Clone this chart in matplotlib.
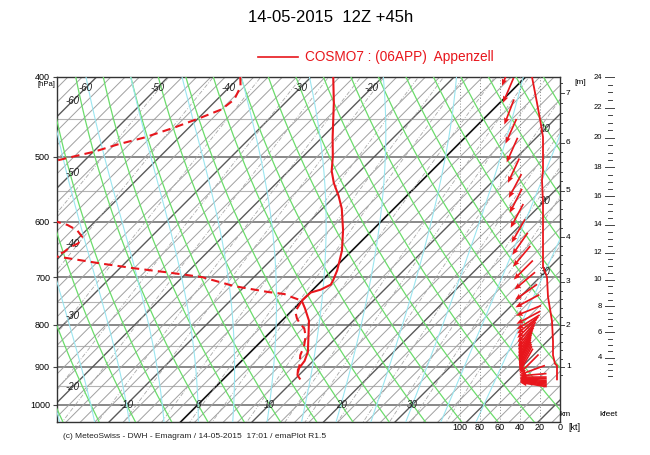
import numpy as np
import matplotlib.pyplot as plt
from matplotlib.lines import Line2D

plt.rcParams['font.family'] = ['Liberation Sans', 'DejaVu Sans']

RED = '#e8161c'
SKEW = 50.0          # degC per unit ln(p) -> 45 deg isotherms

# temperature profile (hPa, degC)
temp_p = [400, 430, 474, 500, 520, 538, 558, 578, 614, 650, 687, 706, 715, 725,
          731, 745, 748, 764, 791, 833, 863, 885, 907, 921, 930]
temp_t = [-26.9, -23.2, -18.5, -15.8, -14.0, -12.0, -9.5, -7.3, -4.1, -1.4, 0.7,
          1.5, 1.8, 1.1, 0.1, 0.0, 0.0, 1.5, 3.8, 6.3, 8.0, 8.8, 9.1, 9.8, 10.6]

# dew point profile (hPa, degC)
dew_p = [400, 411, 426, 438, 448, 461, 474, 483, 493, 500, 505, 530, 575, 600, 605,
         614, 626, 637, 644, 653, 660, 664, 674, 683, 691, 700, 718, 730, 734, 740,
         748, 771, 786, 797, 808, 826, 850, 871, 896, 921, 928]
dew_t = [-39.9, -38.5, -37.6, -38.0, -39.7, -42.1, -44.9, -47.6, -49.9, -52.2, -53.8,
         -62.0, -62.0, -45.2, -43.4, -41.3, -39.6, -39.3, -39.9, -40.1, -41.0, -38.7,
         -33.3, -28.0, -22.7, -17.3, -11.5, -5.9, -3.4, -2.0, 0.0, 0.6, 1.8, 2.9, 4.2,
         5.5, 6.7, 7.4, 8.7, 9.8, 10.2]

# wind speed profile (hPa, kt)
wspd_p = [400, 430, 450, 473, 500, 519, 534, 568, 620, 650, 680, 690, 700, 740,
          765, 792, 838, 871, 892, 897, 932]
wspd_kt = [28, 23, 20, 17, 17, 17, 18, 17, 17, 17, 17, 15, 13, 12, 10, 8, 7, 7, 5, 3, 3]

# wind direction arrows (hPa, direction from, deg)
arrow_p = [410, 430, 457, 482, 508, 538, 561, 585, 610, 636, 658, 680, 705, 725,
           746, 762, 780, 798, 810, 820, 830, 840, 850, 858, 866, 873, 880, 886,
           892, 898, 903, 908, 913, 917, 920, 923, 926, 928, 930, 932, 934, 936,
           938, 940]
arrow_dir = [22, 23, 21, 24, 24, 25, 28, 27, 28, 30, 35, 40, 45, 50, 55, 62, 68, 62,
             58, 52, 46, 42, 38, 35, 32, 30, 28, 27, 26, 26, 27, 28, 30, 45, 70, 85,
             90, 92, 94, 95, 96, 97, 98, 99]

# height scale (km above sea level -> pressure read on the right axis)
km_levels = [1, 2, 3, 4, 5, 6, 7]
km_p = [899.6, 800.2, 710.7, 625.6, 549.0, 481.0, 418.3]

speed_ticks = [100, 80, 60, 40, 20]


def skew_x(t, p):
    return np.asarray(t, float) + SKEW * np.log(1000.0 / np.asarray(p, float))


def es(t):
    return 6.112 * np.exp(17.67 * t / (t + 243.5))


def moist(t0, pg):
    Rd, cp, Lv, eps = 287.04, 1005.7, 2.501e6, 0.622

    def f(T, p):
        e = es(T - 273.15)
        rs = eps * e / (p - e)
        return (Rd * T + Lv * rs) / (p * (cp + Lv * Lv * rs * eps / (Rd * T * T)))

    T = t0 + 273.15
    out = [T]
    for i in range(1, len(pg)):
        p, dp = pg[i - 1], pg[i] - pg[i - 1]
        k1 = f(T, p)
        k2 = f(T + k1 * dp, p + dp)
        T = T + 0.5 * (k1 + k2) * dp
        out.append(T)
    return np.array(out) - 273.15


def px(x, y):
    return x / 650, 1 - y / 455


fig = plt.figure(figsize=(6.5, 4.55), dpi=100)
ax = fig.add_axes([57 / 650, 33 / 455, 503 / 650, 345 / 455])
ax.set_yscale('log')
ax.set_ylim(1050, 400)
ax.set_xlim(-19.72, 50.63)

pp = np.geomspace(380, 1100, 200)

# isobars
for p in range(400, 1051, 50):
    if p % 100 == 0:
        ax.axhline(p, color='#808080', lw=1.3, zorder=1)
    else:
        ax.axhline(p, color='#b4b4b4', lw=0.8, zorder=1)

# isotherms
for t in range(-70, 56, 2):
    if t == 0:
        c, lw = '#111111', 1.2
    elif t % 10 == 0:
        c, lw = '#5a5a5a', 1.0
    else:
        c, lw = '#a0a0a0', 0.7
    ax.plot(skew_x(t, pp), pp, color=c, lw=lw, zorder=2)

# mixing ratio lines
for w in [0.1, 0.2, 0.4, 0.7, 1, 1.5, 2, 3, 4, 5, 7, 10, 12, 16, 20, 25, 30, 40]:
    e = (w / 1000) * pp / (0.622 + w / 1000)
    le = np.log(e / 6.112)
    td = 243.5 * le / (17.67 - le)
    ax.plot(skew_x(td, pp), pp, color='#a8a8a8', lw=0.6, ls=(0, (5, 2, 1, 2)), zorder=2)

# dry adiabats
for th in range(-40, 100, 5):
    t = (th + 273.15) * (pp / 1000.0) ** 0.2857 - 273.15
    ax.plot(skew_x(t, pp), pp, color='#6bdc6b', lw=0.9, zorder=3)

# moist adiabats
pg_up = np.linspace(1000, 380, 250)
pg_dn = np.linspace(1000, 1100, 30)
for thw in range(-20, 45, 5):
    tu = moist(thw, pg_up)
    td_ = moist(thw, pg_dn)
    ax.plot(skew_x(tu, pg_up), pg_up, color='#9be6f0', lw=0.8, zorder=3)
    ax.plot(skew_x(td_, pg_dn), pg_dn, color='#9be6f0', lw=0.8, zorder=3)

# isotherm labels
lab = dict(fontsize=7, style='italic', color='#222222', ha='center', va='center', zorder=6)
for t in [-60, -50, -40, -30, -20]:
    ax.text(skew_x(t, 412.5), 412.5, str(t), **lab)
    xl = -17.6
    ax.text(xl, 1000 * np.exp(-(xl - t) / SKEW), str(t), **lab)
for t in [10, 20, 30]:
    xr = 48.5
    ax.text(xr, 1000 * np.exp(-(xr - t) / SKEW), str(t), **lab)
for t in [-10, 0, 10, 20, 30]:
    ax.text(t, 1000, str(t), **lab)

# profiles
ax.plot(skew_x(temp_t, temp_p), temp_p, color=RED, lw=1.5, zorder=7)
ax.plot(skew_x(dew_t, dew_p), dew_p, color=RED, lw=1.5, ls=(0, (4, 2.5)), zorder=7)

ax.set_xticks([])
ax.set_yticks([400, 500, 600, 700, 800, 900, 1000])
ax.set_yticklabels(['400', '500', '600', '700', '800', '900', '1000'])
ax.yaxis.set_minor_locator(plt.NullLocator())
ax.tick_params(axis='y', length=3, width=0.8, color='#444444', labelsize=6.5, pad=2)
for s in ax.spines.values():
    s.set_color('#333333')
    s.set_linewidth(1.0)

# wind panel sharing the pressure axis, 1 px per kt from the right edge
axw = fig.add_axes(ax.get_position(), sharey=ax, frameon=False)
axw.set_xlim(503, 0)
axw.set_axis_off()
for k in speed_ticks:
    axw.axvline(k, color='#8a8a8a', lw=0.7, ls=(0, (1, 2)), zorder=4)
axw.plot(wspd_kt, wspd_p, color=RED, lw=1.3, zorder=7)

ap = np.array(arrow_p, float)
frac = np.log(ap / 430) / np.log(940 / 430)
tip_kt = 57 - 17 * frac
d = np.radians(arrow_dir)
L = 27
axw.quiver(tip_kt, ap, -np.sin(d) * L, -np.cos(d) * L, pivot='tip', angles='uv',
           scale_units='dots', scale=1, units='dots', width=1.7, headwidth=3.2,
           headlength=4, headaxislength=3.6, color=RED, zorder=8)

xt = axw.get_xaxis_transform()
for k in speed_ticks + [0]:
    axw.text(k, -0.017, str(k), transform=xt, ha='center', va='center', fontsize=6.5,
             clip_on=False)
fig.text(*px(574, 428), '[kt]', ha='center', va='center', fontsize=6.5)

# height axes on the right
coef = np.polyfit(km_levels, np.log(km_p), 2)


def p_of_km(z):
    return np.exp(np.polyval(coef, z))


ty = ax.get_yaxis_transform()
for z in np.arange(0.8, 7.41, 0.2):
    p = p_of_km(z)
    if p > 1050 or p < 400:
        continue
    major = abs(z - round(z)) < 1e-6
    ln = 4 if major else 2
    ax.plot([1.0, 1.0 + ln / 503], [p, p], transform=ty, color='#444444', lw=0.7,
            clip_on=False)
    if major:
        ax.text(1.0 + 6 / 503, p, str(int(round(z))), transform=ty, fontsize=6,
                ha='left', va='center')

for kf in np.arange(2.5, 24.01, 0.5):
    p = p_of_km(kf * 0.3048)
    if p < 399:
        continue
    x0 = (605 - 57) / 503 if kf % 2 == 0 else (608 - 57) / 503
    x1 = (614 - 57) / 503 if kf % 2 == 0 else (612 - 57) / 503
    ax.plot([x0, x1], [p, p], transform=ty, color='#444444', lw=0.7, clip_on=False)
    if kf % 2 == 0:
        ax.text((602 - 57) / 503, p, str(int(kf)), transform=ty, fontsize=5.5,
                ha='right', va='center')

fig.text(*px(580, 83), '[m]', fontsize=6, ha='center', va='center')
fig.text(*px(565, 415), 'km', fontsize=6, ha='center', va='center')
fig.text(*px(609, 415), 'kfeet', fontsize=6, ha='center', va='center')
fig.text(*px(46, 85), '[hPa]', fontsize=5.5, ha='center', va='center')

# title, legend, footer
fig.text(*px(331, 18), '14-05-2015  12Z +45h', fontsize=12, ha='center', va='center')
fig.add_artist(Line2D([258 / 650, 298 / 650], [1 - 57 / 455, 1 - 57 / 455], color=RED,
                      lw=1.2))
fig.text(*px(305, 57), 'COSMO7 : (06APP)  Appenzell', fontsize=9.8, color=RED,
         ha='left', va='center')
fig.text(*px(63, 437), '(c) MeteoSwiss - DWH - Emagram / 14-05-2015  17:01 / emaPlot R1.5',
         fontsize=6, ha='left', va='center', color='#222222')

fig.savefig('out.png', dpi=100)
